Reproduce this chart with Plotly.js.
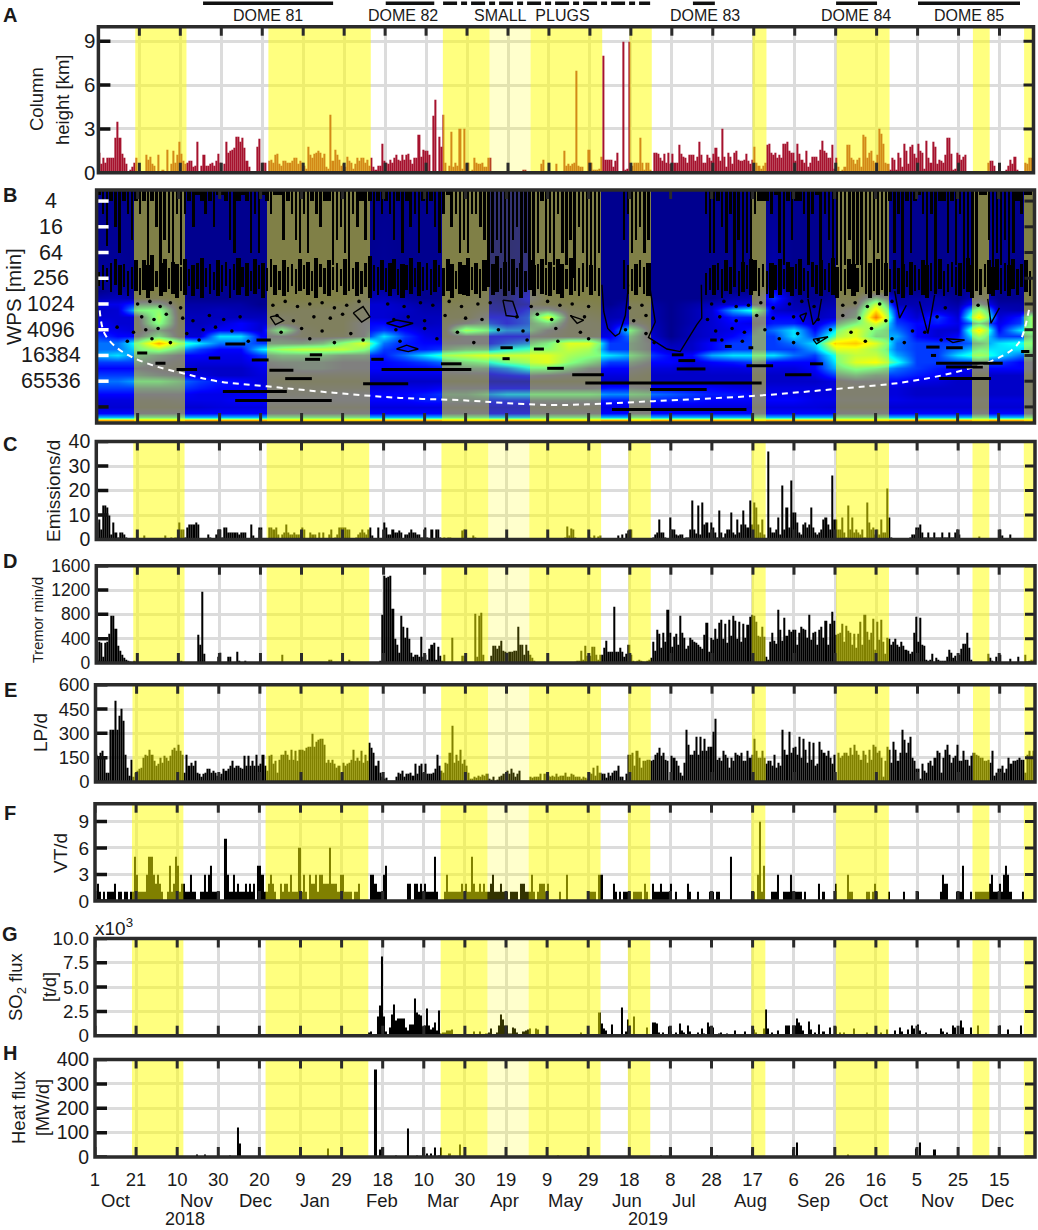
<!DOCTYPE html>
<html>
<head>
<meta charset="utf-8">
<script src="https://cdn.plot.ly/plotly-3.0.1.min.js"></script>
<style>body { margin: 0; background: #fff; }</style>
</head>
<body>
<div id="plot" style="width:1038px;height:1230px"></div>
<script>
// x axis: days since 1 Oct 2018, one tick every 20 days
const tickDays = [0,20,40,60,80,100,120,140,160,180,200,220,240,260,280,300,320,340,360,380,400,420,440]
const tickLabels = ["1","21","10","30","20","9","29","18","10","30","19","9","29","18","8","28","17","6","26","16","5","25","15"]
const monthLabels = ["Oct","Nov","Dec","Jan","Feb","Mar","Apr","May","Jun","Jul","Aug","Sep","Oct","Nov","Dec"]
const monthDays = [10,49.6,78,107,139.6,169.5,199.5,229,258.7,286.6,318.8,349.4,379,410,439.3]
const yearLabels = ["2018","2019"]
const yearDays = [43.8,269]

// shaded periods
const shadeStart = [18,83,168.2,191,211,259.3,319.4,360.5,427,452]
const shadeEnd = [43,133,191,211,246,270.2,326.2,386.3,435.2,458]
const shadeAlpha = [0.5,0.5,0.5,0.2,0.5,0.5,0.5,0.5,0.5,0.5]

// dome labels on top
const domeNames = ["DOME 81","DOME 82","SMALL  PLUGS","DOME 83","DOME 84","DOME 85"]
const domeStart = [51.1,140.3,168.3,290.3,360.2,400.2]
const domeEnd = [114.6,164,269.4,301,380.2,450]
const domeDash = ["solid","solid","14px,4px,6px,4px","solid","solid","solid"]

// A - column height [km], one row per 20 days
const columnHeight = [
1.4,0.6,1,0.7,1,1,1,1,2.4,3.5,2.4,1.3,1,0.6,0.1,0.2,0.4,0.7,1,0,
0,0,0.1,1.2,0.9,1.1,0.6,0.5,0.1,1.2,0.1,0.2,0.1,1.6,0.1,0.6,1.5,0.7,1.2,2.1,
1.3,0.8,0.6,0.7,0.8,0.8,0.4,0.5,2.1,0.1,0.5,1.2,0.5,0.5,0.6,0.7,0.5,0.8,1.3,0.7,
0.1,0.6,2.1,1.4,1.5,1.6,1.7,2.5,2.5,2.1,2.4,1.7,0.8,0.4,0.1,0,0,1.8,2.3,0.1,
0.7,0.7,0.1,0.8,0.9,0.7,1.2,1.3,0.6,0.5,0.8,0.8,0.7,0.7,0.8,1,1,0.6,0.8,0.7,
0.5,0.3,1.8,1.2,1,1.3,1.4,1.5,1.4,1,1.3,0.4,0.3,4,0.8,1.6,1.2,0.9,0.5,0.6,
0.4,1.1,0.8,0.7,0.3,0.6,1,0.8,1,1,0.7,0.9,0.5,1,0.4,0.2,0.5,0.5,2,0.8,
0.7,0.6,0.9,0.7,1,1.2,0.9,0.8,1.2,0.9,1.2,1.3,0.9,0.6,1,1,2.6,1.1,1.6,1.5,
1.5,1.2,0.1,3.9,5,0.1,2.5,1.8,4,0.7,0.1,0.5,2.8,0.4,0.7,0.5,3,0.3,3,0.6,
0.7,0.1,0.2,1,0.7,0.6,0.6,0.7,0.4,0.4,1,1,0,0,0,0.1,0,0,0.1,0.1,
0,0,0,0,0,0,0.1,0.2,0.2,0,0,0,0,0,0,0,0.6,0.9,0.1,0,
0.1,0,0,0.6,0.1,0,0,1.5,0.5,0.6,0.5,0.6,0.7,7,0.5,0.4,0.4,0.1,0,1.6,
0.7,0.2,0.2,0.2,0.3,1.1,8,0.9,0.9,0.9,0.9,0.4,0.8,1.4,0.1,0,9,0.2,0.3,9,
0.5,0.7,0.7,0.7,2.4,0.7,0.2,0.7,0.7,0.2,0.1,1.4,1.4,1.3,1,0.8,1.3,0.7,1.4,0.6,
1.3,0.7,0.7,1.9,1.3,1.1,1,0.7,1.2,1.2,1.2,0.8,1.1,2.1,1.2,0.7,0.7,1.2,1,0.8,
1.3,1.7,1.1,0.8,3,1.1,0.4,1.4,1.1,0.6,1.4,1.5,0.9,0.8,0.8,0.9,1.3,0.8,0.6,0.9,
1.8,0.7,0.5,0.3,0.5,0.7,1.9,2,1.4,1.2,1.4,1,1.2,1,2,2,2.1,1.5,1.4,1.4,
0.8,2,1.3,0.9,0.7,1.5,0.4,0.7,1.1,1.1,1.1,0.8,1.6,2.2,1.5,1.4,1,1,1.9,0.3,
1,0.4,0.1,0.2,0.4,1.9,1.9,1,0.9,0.6,0.9,1,0.4,2.6,2.5,1,1.4,1.5,0.8,0.7,
1.2,3,2.7,2,0.7,0.6,0.2,1,0.9,0.2,1.4,1,0.4,2,1.5,0.6,1.8,1.9,1.3,1,
2,1.5,1.4,0.3,2.2,1,0.7,2.1,1.8,0.6,0.9,0.8,0.7,1.2,2.4,2.4,1.3,0.2,0.3,1.4,
1.2,0.9,1.1,1.2,0.1,0,0,0,0,0,0,0,0,0,0.7,0.8,0.8,0.5,0,0,
0,0,0,0.2,0.5,0.9,0.6,1.1,0.2,0,0,0,0.7,0.6,1,1,0.1]

// C - emissions per day
const emissions = [
7,8,4,14,14,13,10,2,7,3,1,3,3,2,1,0.5,0.3,0.2,0.2,0.1,
0,0.1,0.2,1.5,0.1,0.1,0.2,0.4,0.4,0.5,0.5,0.3,0.4,1.8,0.5,0.6,0.7,0.3,0.8,1,
7,4,4,1,5,6,6,6,7,6,0.2,0,0,0,2,1,0.1,0.3,2,4,
4,1,5,5,3,3,3,3,3,2,3,3,3,0.2,0.5,6,1.5,0.3,0.2,5,
5,0.5,0.5,0.3,5,5,4,5,2,0.5,2,3,6,3,2,2,3,2,2,2,
5,4,0.3,0,3,2,2,0.3,3,0.5,3,0.3,0.3,2,4,0.3,1,2,5,5,
5,5,4,4,0.5,0.3,1,2,3,4,3,2,4,5,1.5,0.3,0,5,0.3,0.3,
7,5,2,2,4,3,3,3.5,3,0.5,2,2,3,4,3,3,2,2,1,1,
5,1,0.3,4,0.3,4,4,1,0.2,1,0.5,1,1,0.3,0.2,0.2,0.3,0.3,3.5,4,
0.5,0.2,0.1,1.5,0.8,0.3,0.1,0,0,0,0,0,0,0,0,0,0,0,0,0,
0.1,0,0,0,0,0,0,0.2,0.2,0.2,0,0,0.1,0.1,0,0,0,0,0,0,
0.1,0,0,0,0.2,0.2,0.3,0.4,1,5.5,1.5,4.5,4,1,0.6,0.4,0.2,0.1,0.1,0.2,
1,0.5,1.5,0.5,1.3,1.5,0.5,0.3,0.2,0.2,0.5,0.3,0.3,0.5,1.5,0.3,2,0.3,2.5,3.5,
4,0.2,0.1,0.1,0.1,0.1,0.1,0.2,0.2,0.2,0.3,1,2,3,8,3,3,1,0.4,9,
4,4,2,1.5,2,2,0.5,1,1,4,16,4,2.5,14,2,15,6,7,3,7,
5,3,1,12,3,1,2.5,4,4,11,3,2,8,3,6,12,6,5,16,6,
15,13,6,3,8,2,0.5,36,5,3,3,4,9,2,22,4,13,5,24,11,
11,7,3,2,6,7,5,6,13,5,3,2,3,4,8,9,6,4,26,8,
8,4,4,9,3,1,14,4,9,3,4,3,2,4,1,15,7,4,5,2,
4,2,8,3,3,21,9,1,0.5,0.5,0.3,0.3,0.3,0.5,0.5,0.3,1,2,2,5,
5,6,3,1,1,3,1,1,3,1,1,1,3,1,1,3,1,1,3,4,
2,0.3,0.1,0.3,0.1,0,0,0.1,0.1,0.2,1.2,0.2,0.2,0,0,0,0,0,0,0,
4,1.5,0.3,0.3,0.5,2,0.3,0.3,0.1,0.1,0.1,0.1,0.1,0.1,0.5,0.3,0.5]

// D - tremor minutes per day
const tremor = [
60,350,340,100,340,350,480,780,780,570,280,200,130,90,60,40,20,10,30,15,
5,5,5,5,5,3,3,3,3,3,3,3,3,3,3,3,3,2,2,2,
10,30,10,5,5,5,3,3,5,470,300,1170,150,10,5,3,3,3,3,100,
170,5,5,5,100,100,10,5,180,30,5,5,30,10,5,5,5,5,5,10,
3,3,3,3,3,3,3,3,3,3,140,5,3,3,3,3,3,3,3,3,
3,3,3,3,3,3,3,3,3,3,3,3,3,60,60,10,3,3,3,3,
3,3,3,50,20,3,3,3,3,3,3,3,3,3,3,3,3,3,30,800,
1430,1400,1420,1430,900,400,300,170,780,600,420,580,400,170,110,130,130,100,440,110,
140,60,230,300,330,60,270,120,30,130,5,3,3,410,5,3,3,3,120,120,
20,10,10,5,810,100,770,830,130,10,5,20,120,280,290,230,280,360,200,180,
170,190,180,200,200,590,300,300,130,300,200,130,80,40,10,5,5,3,3,3,
3,3,3,3,3,3,3,3,5,5,5,5,10,20,30,30,200,60,290,120,
120,270,270,130,60,130,130,250,370,180,180,180,930,180,180,250,190,110,150,300,
130,40,20,40,50,30,20,10,40,60,80,350,200,550,480,250,500,350,880,500,
270,440,480,300,770,500,420,240,280,410,380,350,340,300,260,230,470,660,180,420,
380,560,400,660,720,400,650,330,720,450,780,700,400,680,350,650,420,630,760,800,
780,680,450,430,600,430,100,60,350,500,370,320,880,540,370,740,450,540,520,540,
550,300,500,600,560,540,420,800,380,500,520,300,550,600,410,700,300,650,850,700,
470,490,500,650,350,620,530,500,300,480,250,480,680,300,800,510,390,500,730,220,
680,380,720,350,150,410,400,300,350,400,300,260,350,280,220,200,150,180,500,760,
350,750,300,280,60,40,50,160,20,90,50,30,40,40,100,220,170,90,120,30,
130,230,320,310,500,250,50,10,5,5,5,5,5,10,150,90,30,20,100,20,
140,10,5,5,5,70,10,10,10,100,10,5,130,5,40,60,50]

// E - LP events per day
const lpEvents = [
170,150,180,190,150,60,60,320,320,500,320,410,450,380,170,90,40,140,30,60,
70,80,90,150,170,160,200,170,130,100,110,150,120,160,150,130,160,200,210,190,
230,190,170,60,170,100,120,100,130,60,50,30,50,60,80,80,60,70,60,40,
30,50,80,70,80,100,130,90,100,100,90,80,160,100,160,100,130,100,170,100,
110,170,100,70,160,170,110,130,60,140,170,170,190,170,140,200,140,190,130,200,
200,190,210,220,220,300,220,250,260,270,270,230,120,140,120,140,110,90,100,60,
120,100,110,120,140,200,130,150,130,190,120,170,130,240,210,180,100,130,60,30,
20,25,10,5,5,10,30,60,50,70,30,50,50,60,40,110,50,100,110,60,
110,50,50,50,60,80,170,100,70,60,120,110,180,350,120,170,130,200,110,140,
100,60,20,20,30,25,40,30,45,40,50,20,15,30,10,15,30,40,50,50,
70,50,80,60,30,50,70,10,5,10,8,30,25,35,30,30,50,10,50,50,
40,30,40,30,50,35,40,40,60,35,30,50,45,30,30,30,20,30,25,20,
60,50,90,40,100,60,50,50,25,60,40,60,70,70,100,35,30,10,50,170,
170,180,100,190,150,90,130,130,140,140,130,140,170,180,210,160,180,140,130,10,
160,150,130,100,60,40,120,320,230,170,170,190,280,170,280,190,270,190,220,220,
310,390,140,150,130,190,170,150,90,150,130,180,170,160,180,130,130,190,150,170,
270,190,150,150,190,150,110,130,130,100,170,90,120,100,320,200,170,310,180,210,
220,170,280,150,270,200,120,250,140,240,100,110,250,200,180,160,190,150,110,170,
10,180,150,160,180,180,160,210,170,230,190,170,140,190,170,120,200,140,230,220,
180,190,150,30,130,220,200,120,250,200,130,180,320,260,180,240,280,150,130,80,
80,20,110,70,60,120,130,100,150,190,180,60,150,200,230,170,120,150,160,230,
130,130,190,140,140,100,160,180,170,160,150,150,130,130,140,120,190,40,60,80,
80,100,60,80,150,110,130,130,140,150,140,140,60,170,190,160,190]

// F - VT events per day
const vtEvents = [
0,2,1,0,1,0,1,1,1,2,0,1,1,0,1,1,0,1,1,5,
3,1,1,1,1,3,5,5,3,2,3,2,1,0,0,1,4,1,2,5,
4,1,2,2,1,1,3,1,1,0,0,1,1,3,1,3,4,1,1,1,
1,0,0,7,3,1,1,3,1,2,1,1,1,2,1,2,1,2,0,4,
4,3,1,1,2,3,2,1,0,0,2,1,2,2,1,3,1,1,1,6,
1,3,1,0,3,2,2,3,1,3,3,2,2,2,6,2,2,2,1,3,
3,1,1,1,1,0,1,1,2,0,0,0,0,0,3,3,2,1,1,1,
3,4,0,0,0,0,0,0,0,0,0,0,2,2,0,2,2,1,2,1,
2,1,1,1,1,5,1,0,0,0,1,3,1,1,1,1,1,1,2,1,
2,1,1,5,2,1,1,2,1,2,1,1,2,3,1,1,1,2,1,1,
1,0,1,1,1,1,0,2,2,1,1,1,3,1,0,1,2,2,2,1,
2,0,0,0,0,0,1,0,0,3,0,0,0,0,0,0,0,0,0,0,
1,1,1,1,0,3,3,0,0,0,0,0,2,1,0,1,0,1,1,1,
1,0,1,1,1,1,0,2,1,0,0,2,1,1,1,2,1,1,1,1,
2,0,1,0,0,0,0,0,2,1,0,0,0,1,0,0,0,0,0,1,
1,0,1,1,0,0,0,0,0,5,0,0,0,0,0,0,0,0,0,1,
1,0,3,9,1,4,0,0,0,1,1,1,3,0,0,1,1,1,3,1,
1,1,1,1,0,1,0,0,0,0,0,0,2,0,1,0,0,0,0,0,
2,0,0,0,0,0,3,1,1,0,0,0,0,0,0,1,1,0,1,2,
1,0,0,0,0,0,1,0,0,0,0,0,0,1,0,0,0,0,0,0,
1,0,0,0,0,0,0,0,0,0,0,1,3,2,2,0,0,0,0,1,
1,1,4,0,0,0,1,0,1,1,1,1,1,1,1,2,3,1,1,1,
2,1,3,4,3,1,0,0,0,0,0,1,0,0,0,0,0]

// G - SO2 flux, x10^3 t/d, only the days that show a bar
const so2Days = [113,130,133,134,137,138,139,140,141,143,144,145,146,147,148,149,150,151,152,153,154,155,156,157,158,159,160,161,162,163,164,165,166,167,168,169,170,171,172,173,184,187,190,191,192,195,196,197,198,199,200,201,202,203,204,205,208,209,210,211,214,215,222,226,230,236,245,246,247,248,251,256,258,259,260,262,264,268,271,272,273,274,276,279,280,282,284,285,286,288,289,293,295,296,298,299,300,303,304,307,311,316,320,321,325,326,327,329,332,336,337,339,340,341,342,343,344,347,348,350,352,354,357,360,362,364,369,375,382,385,389,391,392,395,397,398,400,401,404,408,411,412,414,417,418,421,422,426,429,436,440,444,450]
const so2Flux = [0.05,0.1,0.3,0.4,2,3.1,8.2,2,0.4,0.8,2.2,3.2,1.6,1.8,1.8,1.8,1.8,0.8,0.5,1.2,1.2,3.8,2.4,2.2,2.1,0.9,1,2.8,1.1,0.6,0.8,1.4,0.5,2.6,0.2,0.3,0.3,0.5,0.5,0.6,0.4,0.4,0.2,0.3,0.7,0.3,1,2.2,1.7,1.1,1.1,0.2,0.2,0.8,0.7,0.3,0.4,0.5,0.6,0.7,0.7,0.6,0.1,0.1,0.1,0.3,2.4,1.3,0.7,0.5,1.2,2.9,0.4,1.7,1,2,0.1,0.8,1.4,1.4,1.3,0.3,0.3,0.9,0.4,0.3,1.3,0.5,0.3,1,0.4,0.3,0.7,0.2,1.4,0.9,0.8,0.2,0.3,0.2,0.5,0.4,0.6,0.3,0.7,2.7,0.7,0.3,0.5,1,1,1,1,1.8,1.4,1.1,0.5,1.5,0.6,0.3,1.2,0.4,0.8,0.9,0.3,0.3,0.7,0.3,0.3,0.6,0.5,0.8,0.4,0.6,1,0.7,1.2,0.5,0.3,0.1,0.7,0.4,0.3,1,0.8,1.6,0.8,0.8,1,0.1,1,0.6,1]

// H - heat flux [MW/d], only the days that show a bar
const heatDays = [49,53,65,69,70,113,136,138,139,146,152,156,159,161,163,165,167,168,172,177,225,236,275,280,302,319,339,341,366,399,401,408]
const heatFlux = [10,10,7,120,55,33,360,30,40,5,115,8,40,15,15,40,5,40,15,50,8,5,5,40,5,30,30,60,10,35,60,30]

// B - wavelet power, rows are log2(period), columns every 10 days
const wpsColumns = [0,10,20,30,40,50,60,70,80,90,100,110,120,130,140,150,160,170,180,190,200,210,220,230,240,250,260,270,280,290,300,310,320,330,340,350,360,370,380,390,400,410,420,430,440,450,460]
const wpsLevels = [1,8.5,9,9.5,10,10.5,11,11.5,12,12.5,13,13.5,14,14.5,15,15.5,16,16.5,17,17.5,18,18.5,18.8,19,19.3]
const wpsTop = [0,0,0,0,0,0,0,0,0,0,0,0,0,0,0,0,0,0,0,0,0,0,0,0,0,0,0,0,0,0,0,0,0,0,0,0,0,0,0,0,0,0,0,0,0,0,0]
const wps085 = [0.1,0.1,0,0,0,0,0,0,0,0,0,0,0,0,0.1,0,0,0,0,0,0,0.2,0,0,0,0,0,0,0,0,0,0,0,0.3,0,0,0,0,0,0,0,0,0,0,0,0,0]
const wps090 = [0,0.2,0,0,0,0,0,0,0,0,0,0,0,0.2,0.2,0,0,0,0,0.2,0,0.7,0,0,0,0,0,0,0,0,0,0,0,1,0,0,0,0,0,0,0,0,0,0.3,0,0,0]
const wps095 = [0.3,0.4,0.2,0.3,0,0,0,0,0,0,0,0,0,0.3,0.4,0.2,0,0,0.2,0.3,0,1,0.2,0,0,0,0,0,0,0,0,0.3,0.3,1.5,0.2,0,0.2,0.2,2,0.2,0.2,0.3,0,0.6,0,0,0]
const wps100 = [0.8,0.8,1.5,1.5,0.2,0.2,0.2,0.2,0,0.2,0.2,0.2,0.2,0.6,0.6,0.4,0.2,0.2,0.3,0.4,0.3,0.6,0.3,0.2,0.2,0,0.3,0.2,0,0.2,0.4,0.6,0.7,1,0.3,0.2,0.3,0.4,4.5,0.3,0.3,0.4,0.2,1.5,0.2,0.2,0.3]
const wps105 = [0.5,0.6,3,3.5,0.3,0.3,0.4,0.3,0.2,0.3,0.4,0.4,0.4,0.6,0.6,0.5,0.3,0.3,0.4,0.6,0.4,1.2,1.5,0.4,0.3,0.2,0.4,0.3,0,0.3,0.6,2.5,3.5,0.6,0.4,0.3,0.5,1.2,6,1,0.4,0.6,0.4,4,0.4,0.3,0.6]
const wps110 = [0.6,0.6,0.6,4,0.4,0.4,0.4,0.4,0.4,0.6,0.4,0.4,0.4,0.6,0.6,0.4,0.4,0.4,0.4,1,1,1.5,5,0.6,0.5,0.3,0.4,0.3,0,0.3,0.6,1.2,1.2,1,1,0.4,0.6,1.5,8,1.2,0.6,1.5,0.6,6,0.6,1.2,5.5]
const wps115 = [1,0.6,0.6,3.5,0.5,0.4,0.6,1,0.6,0.6,0.4,0.4,0.4,1,1,0.5,0.4,0.5,1,1.5,1,1.5,2.5,0.6,0.6,0.5,1,0.4,0,0.3,0.6,1,0.8,1.2,1.2,0.6,1.5,3,5,1.5,1,1.2,0.8,2.5,0.8,1.5,5]
const wps120 = [1,0.8,0.6,1.5,0.6,0.5,1,1,0.6,3,0.6,0.4,0.4,1,1.5,1,0.6,0.6,4,3,2,2,1,0.6,0.6,0.6,3,0.5,0,0.4,0.6,0.8,1.2,2,3,1,3,5,3,2,1,0.6,0.6,6,1,3,4]
const wps125 = [1.5,1,1,2.5,0.6,0.6,3,3,1,1,0.6,0.5,0.5,1,3,1.5,0.8,0.6,1,1,1,1,0.8,0.6,0.6,0.8,2,0.6,0,0.4,0.6,1,1.5,1.5,3,1.5,4,5,2.5,2.5,1,0.6,1,4,1.5,1.5,3]
const wps130 = [2,2,3.5,7,4,3,2,2,1.5,1.5,1.5,2,3.5,5,2,1.2,1,1,1,1,1.5,2,3,5,5,1.5,1.5,1,0.3,0.5,1,1.5,1.5,1.5,2,3,6,6.5,5,2,1.5,1.5,1.5,2,3,3.5,3.5]
const wps135 = [2,2,3,4,2.5,1.5,1,1,3,4,4.5,4.5,4.5,3.5,1.5,1.2,1.2,1.5,2,2,3,3.5,3.5,4.5,4,1.5,1.5,1,0.5,0.5,1,1.5,1.5,1.5,1.5,2.5,5,5,4,2,1.5,1.5,2,3,3,3,2.5]
const wps140 = [2.5,3,2,1.5,1,1,0.8,0.8,1.5,2,2,2,1.5,1.5,1.2,2,3,4,4.5,5,5,5,5,4,3.5,3,2.5,1.5,1,1,2.5,3,3,3,2,1.5,3.5,4.5,4.5,2.5,1.5,1.5,3,4,3,2,1.5]
const wps145 = [1.5,1.5,1.5,1,0.8,0.7,0.7,0.7,1,1.2,1.2,1.2,1,1,1,1.2,1.5,2,2.5,3,4,4.5,5,3.5,2.5,1.5,1.5,1,1,0.7,1,1.2,1.5,1,1,1,3,5,5.5,3.5,1.5,1.5,1.5,1.5,1.5,1,1]
const wps150 = [1,1,1,0.8,0.7,0.5,0.5,0.5,0.8,1,1.2,1.2,1,1,1,1,1,1.2,1.5,1.5,2,3,3,2,1.2,1,1,0.7,0.7,0.5,0.7,0.7,0.8,0.7,0.7,1,2.5,3.5,3,2,1.5,1.2,1,1,1,1,1]
const wps155 = [1.5,1.5,1.5,1.2,1,0.7,0.5,0.5,0.7,0.7,0.7,0.7,0.7,0.7,0.7,0.7,0.7,0.7,0.7,0.8,1,1.2,1,0.8,0.7,0.7,0.7,0.5,0.5,0.5,0.5,0.5,0.5,0.5,0.5,0.7,1.5,2,1.5,1.5,1.2,1,0.7,0.5,0.5,0.5,0.5]
const wps160 = [2,2,2.5,2.5,2,1.5,1.2,1,0.7,0.5,0.5,0.5,0.5,0.5,0.5,0.5,0.5,0.5,0.5,0.5,0.5,0.5,0.5,0.5,0.5,0.5,0.5,0.5,0.5,0.5,0.5,0.5,0.5,0.5,0.5,0.5,0.7,1,1,1,0.8,0.7,0.5,0.5,0.5,0.5,0.5]
const wps165 = [1.5,1.5,1.5,1.5,1.5,1.2,1,1,0.8,0.8,0.7,0.7,0.7,0.7,0.7,0.8,0.8,1,1,1,1,1,1,1,1,1.2,1.2,1,1,1,1,0.8,0.7,0.7,0.7,0.7,0.7,0.7,0.7,0.7,0.5,0.5,0.5,0.5,0.5,0.5,0.5]
const wps170 = [1,1,1,1,1,0.8,0.8,0.8,0.8,0.8,0.8,0.8,1,1,1,1,1.2,1.5,1.5,2,2.5,2.5,2.5,2.5,2.5,2.2,2.2,2,1.8,1.5,1.2,1.2,1,0.8,0.8,0.7,0.7,0.7,0.7,0.7,0.5,0.5,0.5,0.5,0.5,0.5,0.5]
const wps175 = [0.7,0.7,0.7,0.7,0.8,0.8,0.8,1,1,1,1,1,1,1,1,1,1.2,1.2,1.2,1.2,1.2,1.2,1.2,1.2,1.2,1.2,1.2,1.2,1.2,1.2,1,1,1,1,1,0.8,0.8,0.8,0.8,0.8,0.7,0.7,0.7,0.7,0.7,0.7,0.7]
const wps180 = [0.6,0.6,0.6,0.6,0.6,0.6,0.7,0.7,0.7,0.7,0.7,0.7,0.7,0.7,0.7,0.7,0.7,0.7,0.7,0.7,0.7,0.7,0.7,0.7,0.7,0.7,0.7,0.7,0.7,0.7,0.7,0.7,0.7,0.7,0.7,0.7,0.6,0.6,0.6,0.6,0.6,0.6,0.6,0.6,0.6,0.6,0.6]
const wps185 = [1,1,1,1,1,1,1,1,1,1,1,1,1,1,1,1,1,1,1,1,1,1,1,1,1,1,1,1,1,1,1,1,1,1,1,1,1,1,1,1,1,1,1,1,1,1,1]
const wps188 = [2.6,2.6,2.6,2.6,2.6,2.6,2.6,2.6,2.6,2.6,2.6,2.6,2.6,2.6,2.6,2.6,2.6,2.6,2.6,2.6,2.6,2.6,2.6,2.6,2.6,2.6,2.6,2.6,2.6,2.6,2.6,2.6,2.6,2.6,2.6,2.6,2.6,2.6,2.6,2.6,2.6,2.6,2.6,2.6,2.6,2.6,2.6]
const wps190 = [6.3,6.3,6.3,6.3,6.3,6.3,6.3,6.3,6.3,6.3,6.3,6.3,6.3,6.3,6.3,6.3,6.3,6.3,6.3,6.3,6.3,6.3,6.3,6.3,6.3,6.3,6.3,6.3,6.3,6.3,6.3,6.3,6.3,6.3,6.3,6.3,6.3,6.3,6.3,6.3,6.3,6.3,6.3,6.3,6.3,6.3,6.3]
const wps193 = [5.5,5.5,5.5,5.5,5.5,5.5,5.5,5.5,5.5,5.5,5.5,5.5,5.5,5.5,5.5,5.5,5.5,5.5,5.5,5.5,5.5,5.5,5.5,5.5,5.5,5.5,5.5,5.5,5.5,5.5,5.5,5.5,5.5,5.5,5.5,5.5,5.5,5.5,5.5,5.5,5.5,5.5,5.5,5.5,5.5,5.5,5.5]

const wpsTickVals = [2,4,6,8,10,12,14,16]
const wpsTickText = ["4","16","64","256","1024","4096","16384","65536"]

// cone of influence
const coiDays = [1.5,3.6,8.4,15.7,28,42.5,58.7,83,115.5,148,180.4,204.7,223,239,271.7,320,361,393,417.7,437,447,451,455]
const coiLog = [10.5,12.2,13.2,14,14.8,15.4,16,16.4,16.9,17.3,17.5,17.75,17.85,17.8,17.55,17.15,16.6,16.1,15.35,14.4,13.5,12.7,10.3]

// significance contours: streaks per 2 days, end of the streak hanging from the top
const streakEnd = [
1.5,3,5.5,2,4,6,2,3,5,2,
3,2,7,2,4,7,5,6,8,3,
7,3,2,4,1.5,2,3,2,4,1.5,
1.5,2,5,6,2,1.5,2,6,3,6,
1.5,2,3,1.5,1.5,5,2,3,5,6,
3,6,2,3,4,2,2,7,5,4,
6,7,3,4,2,5,2,5,2,3,
2,3,5,2,6,2,4,3,6,2,
3,2,4,6,3,1.5,4,3,6,5,
6,3,3,4,5,7,6,5,6,7,
7,5,4,7,6,7,7,6,2,7,
6,7,3,6,7,5,8,4,6,7,
7,7,6,null,null,null,null,null,5,3,
6,5,4,6,5,null,null,null,null,null,
null,null,null,null,null,null,null,null,3,6,
6,2,4,6,3,7,5,8,6,8,
3,2,2,2,3,1.5,6,7,2,5,
2,2,3,7,3,1.5,7,3,5,7,
7,8,7,5,8,7,7,8,5,8,
6,8,7,2,6,3,8,2,6,2,
1.5,3,7,3,8,2,2,6,2,7,
3,8,7,8,8,1.5,1.5,5,8,6,
7,5,7,6,2,3,1.5,1.5,7]
const bandTop = [
7.5,7,7.2,6.8,6.5,7,6.9,7.4,7.1,6.6,
7.2,6.6,7,6.2,7.4,6.8,6.5,7.2,6.7,6.9,
7.1,6.5,7.3,7,6.8,6.4,7.2,6.9,7.5,6.6,
7,6.7,7.3,6.9,6.4,7.1,6.8,7.4,6.5,7,
6.8,7.2,6.5,7,7.4,6.6,7.1,6.9,7.3,6.5,
7,6.7,7.4,6.4,6.9,7.2,6.6,7.1,6.8,7.3,
6.5,6.9,7.2,6.7,7.4,6.8,6.3,7,7.1,6.6,
7.2,6.8,6.5,7.3,6.9,7,6.4,7.2,6.7,7.1,
6.8,7.3,6.6,7,7.2,6.5,6.9,7.4,6.7,7,
6.4,7.1,6.8,7.3,6.6,7,6.9,6.3,7.2,6.7,
7,6.5,7.2,6.8,7.4,6.6,7,6.9,6.5,7.2,
6.7,7.1,6.5,6.9,7.3,6.4,7,7.2,6.8,6.6,
7,6.7,7.2,null,null,null,null,null,6.6,7,
7.3,6.9,6.6,7.1,6.8,null,null,null,null,null,
null,null,null,null,null,null,null,null,7.6,7.2,
7,6.8,7.3,6.6,7.1,6.9,7.4,6.7,7,6.5,
6.6,7.2,6.9,7.4,6.8,7,6.5,7.3,6.7,7.1,
6.9,6.5,7.2,7.4,6.7,7,6.6,7.3,6.8,6.4,
7.1,6.7,7.3,6.5,6.9,7.2,6.6,7,6.8,7.4,
6.5,7,6.8,7.3,6.6,7.2,6.9,7.4,6.7,7,
7.3,6.6,7,6.8,7.2,6.5,7.4,6.9,6.7,7.1,
6.8,7.2,6.4,7,6.7,7.3,6.9,6.6,7.1,6.5,
7.2,6.8,7,6.5,7.3,6.9,6.6,7.4,7]
const bandBottom = [
8.6,8.9,8.3,9.1,8.5,9.3,8.7,9.4,8.8,9,
9.3,8.9,9.5,9,8.7,9.4,9.1,8.8,9.2,9.5,
9,9.3,8.6,9.4,8.8,9.5,8.7,9.2,8.9,9.4,
9.1,8.6,9.5,8.9,9.3,8.7,9.4,9,9.2,8.8,
9.5,9,8.7,9.3,8.9,9.4,9.1,8.6,9.2,9,
8.8,9.3,9,9.5,8.7,9.2,9.4,8.9,9.1,8.6,
9.3,9,8.8,9.4,9.2,8.7,9.5,9,9.3,8.9,
9.1,9.4,8.8,9.3,9.5,8.9,9.2,8.7,9.4,9,
8.9,9.3,9.1,8.7,9.4,9,9.5,8.8,9.2,9.3,
9.4,8.9,9.2,9.5,9,8.7,9.3,9.1,8.8,9.4,
9,9.3,8.7,9.5,9.1,8.9,9.4,8.8,9.2,9.3,
9.4,8.9,9.2,9.5,8.8,9.3,9,9.4,9.1,8.7,
9.3,9,9.4,null,null,null,null,null,8.8,9.2,
9,9.3,8.7,9.2,9.4,null,null,null,null,null,
null,null,null,null,null,null,null,null,9.3,8.9,
9.3,8.9,9.5,9,9.2,8.7,9.4,9.1,8.8,9.3,
9,9.4,8.7,9.2,9.5,8.9,9.3,8.8,9.1,9.4,
8.8,9.3,9,9.5,8.7,9.2,9.4,8.9,9.1,9.3,
9.5,9,9.3,8.8,9.4,9.1,8.7,9.2,9.5,9,
9.3,8.9,9.4,9.1,8.8,9.2,9.5,8.7,9.3,9,
8.9,9.3,9.5,9,9.2,8.8,9.4,9.1,8.7,9.3,
9.4,8.8,9.1,9.5,9,9.3,8.7,9.2,9.4,8.9,
9.2,9,9.4,8.8,9.3,8.7,9.1,9.4,9]

// small closed contours at long periods
const dashStart = [61.6,67.6,130,139,92,84.3,39,75.7,101.7,104,134,168,28.7,54.7,19.8,62.8,78,197,198,238.4,232,219.8,270,251.4,283,283.8,280.6,213.3,317,318,335.8,348,411,409.5,414.4,407,404.7,414.4,451,306.5,299.3]
const dashEnd = [92.8,114.7,152,182.8,105,96,49,83.9,109,110,140,178,33.6,60.3,24.7,72.5,85,203,201.5,324.4,247.4,227.9,297.6,317,297,292,286.3,218.2,330,320.3,348.7,354.4,436.3,442,432.3,409.5,411.2,422.5,455,309.8,302.5]
const dashLog = [16.8,17.5,16.2,15.1,15.8,15.15,15.1,14.35,14.3,13.95,14.3,14.65,14.6,14.2,13.8,13.1,12.8,13.4,14.25,16.15,15.5,15,16.65,18.2,15.05,14.4,13.95,13.5,14.8,13.4,15.5,14.65,15.8,14.6,14.9,14,13.35,13.4,13.7,13.3,12.8]

const dotDays = [20,26,31,36,41,86,92,98,104,110,116,122,128,142,150,158,164,172,178,186,192,212,220,226,232,240,260,266,300,306,312,318,324,330,338,344,350,364,370,376,382,388,414,430,
22,28,34,42,47,55,62,70,88,96,106,114,120,145,152,160,170,180,188,205,215,222,238,262,268,298,304,312,322,330,340,352,364,372,385,410,
5,10,18,24,30,44,52,58,66,90,100,110,124,146,160,176,196,208,224,236,258,268,302,310,316,326,342,358,368,378,398,404,
15,27,36,50,74,104,116,130,148,166,184,210,225,240,272,305,315,333,340,352,375,388,394,412]
const dotLog = [10,9.8,10.2,9.9,10.3,10.1,9.8,10.2,10,9.9,10.3,10.1,9.8,10,10.2,9.9,10.1,9.8,10.2,10,9.9,10.2,9.8,10.1,10,10.2,10.3,10.1,10,9.8,10.2,10.1,9.9,10.3,10,9.8,10.2,10.1,9.9,10.2,10,9.8,10.3,10.1,
11,11.2,10.8,11.1,11.3,10.9,11.2,11,10.9,11.3,11,11.1,10.8,11.2,11,11.3,10.9,11.1,11.2,11,10.8,11.2,11,11.3,10.9,11.2,11,11.3,10.9,11.1,11,11.2,10.9,11.1,11.3,11,
12,11.8,12.2,12,11.9,12.3,12,11.8,12.1,12.2,11.9,12.1,12.3,12,11.9,12.2,12,12.1,11.9,12.2,12,12.3,12.1,11.9,12.2,12,12.3,12,12.2,11.9,12.1,12.2,
12.9,12.7,13,12.8,12.9,12.7,13,12.8,12.9,12.7,13,12.8,12.9,12.7,13,12.8,12.9,12.7,13,12.8,12.9,12.7,13,12.8]

// outlined valleys and loops, null breaks the line
const contourDays = [246.5,247.4,249.3,253,255,257.9,259.5,null,270,272.5,269.2,278.2,284.7,292.8,295.2,295,null,347,349.5,352,353.6,null,389.3,391.7,395,null,401.4,405.5,408.8,null,434.7,436.3,440.4,null,84.7,88,91.2,87.2,84.7,null,125.2,130,133.3,129.3,125.2,null,146.3,151.2,156.9,152,146.3,null,141.4,146.3,154.4,148,141.4,null,198.2,203,205.5,199.8,198.2,null,231.1,237.6,234.4,231.1,null,414.4,423.4,417.7,414.4,null,349.5,356.8,351.2,349.5,null,343,346.3,344.7,343]
const contourLog = [8.5,10.6,11.9,12.5,12.3,10.9,8.5,null,8.8,11.4,12.6,13.5,13.7,11.6,11.1,8.5,null,9.6,11.6,11.1,9.6,null,9,11.1,10.1,null,9.8,12.3,9.3,null,9.6,11.5,10.3,null,11,10.9,11.3,11.6,11,null,10.7,10.2,11,11.4,10.7,null,13.5,13.2,13.5,13.7,13.5,null,11.5,11.25,11.5,11.8,11.5,null,9.7,9.8,11,10.9,9.7,null,10.9,11.25,11.5,10.9,null,12.7,12.8,13,12.7,null,12.75,12.55,13.1,12.75,null,10.9,10.7,11.4,10.9]

const W = 1038
const H = 1230
const font = "Liberation Sans, Arial, sans-serif"
const frameColor = "#2b2b2b"
const gridColor = "#dcdcdc"

const jet = [[0,"#00008f"],[0.11,"#0000ff"],[0.36,"#00ffff"],[0.62,"#ffff00"],[0.87,"#ff0000"],[1,"#800000"]]

// panel frames in pixels: left, right, top, bottom, px per day
const panels = [
    {id: "", left: 98.4, right: 1033.5, top: 26.7, bottom: 172.7, scale: 2.048, range: [0,10], ticks: [0,3,6,9], text: ["0","3","6","9"], size: 20.5, standoff: 2},
    {id: "2", left: 96.6, right: 1034.5, top: 190, bottom: 423, scale: 2.05, range: [19.25,1.14], ticks: [2,4,6,8,10,12,14,16,18], text: [], size: 18, standoff: 0},
    {id: "3", left: 96.3, right: 1035, top: 441.5, bottom: 539.5, scale: 2.052, range: [0,40], ticks: [0,10,20,30,40], text: ["0","10","20","30","40"], size: 19.5, standoff: 5},
    {id: "4", left: 96.3, right: 1035, top: 565.7, bottom: 663, scale: 2.052, range: [0,1600], ticks: [0,400,800,1200,1600], text: ["0","400","800","1200","1600"], size: 17.5, standoff: 5},
    {id: "5", left: 95.5, right: 1035, top: 684.7, bottom: 782, scale: 2.055, range: [0,600], ticks: [0,150,300,450,600], text: ["0","150","300","450","600"], size: 18.5, standoff: 5},
    {id: "6", left: 95, right: 1035, top: 803.7, bottom: 901, scale: 2.055, range: [0,11], ticks: [0,3,6,9], text: ["0","3","6","9"], size: 19, standoff: 5},
    {id: "7", left: 95, right: 1035, top: 938.5, bottom: 1035.7, scale: 2.055, range: [0,10], ticks: [0,2.5,5,7.5,10], text: ["0","2.5","5.0","7.5","10.0"], size: 18.8, standoff: 5},
    {id: "8", left: 95, right: 1035, top: 1059.5, bottom: 1157, scale: 2.055, range: [0,400], ticks: [0,100,200,300,400], text: ["0","100","200","300","400"], size: 19.4, standoff: 5}
]

function paperX(px) { return px / W }
function paperY(px) { return 1 - px / H }

function label(text, px, py, size, extra) {
    // text placed by page position
    return Object.assign({
        text: text, xref: "paper", yref: "paper", x: paperX(px), y: paperY(py),
        xanchor: "center", yanchor: "middle", showarrow: false, borderpad: 0,
        font: {family: font, size: size, color: "#1a1a1a"}
    }, extra || {})
}

function dailyBars(values, color, axisId) {
    // hairline outline plus bargap 0 makes plotly snap the bars to whole pixels, so no seams
    return {
        type: "bar", x: values.map((v, i) => i + 0.5), y: values, width: 1,
        marker: {color: color, line: {width: 0.02, color: color}}, xaxis: "x" + axisId, yaxis: "y" + axisId, hoverinfo: "skip"
    }
}

function sparseBars(days, values, axisId) {
    return {
        type: "bar", x: days.map(d => d + 0.5), y: values, width: 1,
        marker: {color: "#000", line: {width: 0.02, color: "#000"}}, xaxis: "x" + axisId, yaxis: "y" + axisId, hoverinfo: "skip"
    }
}

// traces
const wpsZ = [wpsTop,wps085,wps090,wps095,wps100,wps105,wps110,wps115,wps120,wps125,wps130,wps135,wps140,wps145,wps150,wps155,wps160,wps165,wps170,wps175,wps180,wps185,wps188,wps190,wps193]
const streakDays = streakEnd.map((v, i) => i * 2 + 1)

const traces = [
    dailyBars(columnHeight, "#a6122e", ""),
    {type: "heatmap", x: wpsColumns, y: wpsLevels, z: wpsZ, zmin: 0, zmax: 9, zsmooth: "best", colorscale: jet, showscale: false, xaxis: "x2", yaxis: "y2", hoverinfo: "skip"},
    // shading goes in as a trace here so the contours can sit on top of it
    {type: "bar", x: shadeStart.map((s, i) => (s + shadeEnd[i]) / 2), width: shadeStart.map((s, i) => shadeEnd[i] - s),
        base: shadeStart.map(() => 1.14), y: shadeStart.map(() => 18.11),
        marker: {color: shadeAlpha.map(a => "rgba(255,255,0," + a + ")"), line: {width: 0}}, xaxis: "x2", yaxis: "y2", hoverinfo: "skip"},
    // short stubs join up at the top edge, long ones stay thin
    {type: "bar", x: streakDays, base: streakEnd.map(v => v === null ? null : 1.14), y: streakEnd.map(v => v === null ? null : v - 1.14),
        width: streakEnd.map(v => v !== null && v < 2.5 ? 2 : 1.2),
        marker: {color: "#000", line: {width: 0}}, xaxis: "x2", yaxis: "y2", hoverinfo: "skip"},
    {type: "bar", x: streakDays, base: bandTop, y: bandBottom.map((v, i) => v === null ? null : v - bandTop[i]),
        width: bandBottom.map((v, i) => v !== null && v - bandTop[i] > 2.3 ? 2 : 1.1),
        marker: {color: "#000", line: {width: 0}}, xaxis: "x2", yaxis: "y2", hoverinfo: "skip"},
    {type: "scatter", mode: "lines", x: contourDays, y: contourLog, line: {color: "#000", width: 1.4}, xaxis: "x2", yaxis: "y2", hoverinfo: "skip"},
    {type: "scatter", mode: "markers", x: dotDays, y: dotLog, marker: {color: "#000", size: 3.6}, xaxis: "x2", yaxis: "y2", hoverinfo: "skip"},
    {type: "scatter", mode: "lines", x: coiDays, y: coiLog, line: {color: "#fff", width: 2, dash: "6px,5px", shape: "spline"}, xaxis: "x2", yaxis: "y2", hoverinfo: "skip"},
    dailyBars(emissions, "#000", "3"),
    dailyBars(tremor, "#000", "4"),
    dailyBars(lpEvents, "#000", "5"),
    dailyBars(vtEvents, "#000", "6"),
    sparseBars(so2Days, so2Flux, "7"),
    sparseBars(heatDays, heatFlux, "8")
]

// one thick trace per closed contour dash
dashStart.forEach((s, i) => {
    traces.push({type: "scatter", mode: "lines", x: [s, dashEnd[i]], y: [dashLog[i], dashLog[i]],
        line: {color: "#000", width: 3}, xaxis: "x2", yaxis: "y2", hoverinfo: "skip"})
})

// layout
const layout = {
    width: W, height: H, margin: {l: 0, r: 0, t: 0, b: 0}, paper_bgcolor: "#fff", plot_bgcolor: "#fff",
    barmode: "overlay", bargap: 0, bargroupgap: 0, showlegend: false, font: {family: font, color: "#1a1a1a"}, shapes: [], annotations: []
}

panels.forEach((p, n) => {
    const isWps = n === 1
    const isLast = n === panels.length - 1
    const width = p.right - p.left
    const height = p.bottom - p.top
    layout["xaxis" + p.id] = {
        domain: [paperX(p.left), paperX(p.right)], range: [0, width / p.scale], anchor: "y" + p.id,
        tickmode: "array", tickvals: tickDays, ticktext: isLast ? tickLabels : tickDays.map(() => ""),
        showticklabels: isLast, ticks: "", showline: false, zeroline: false, ticklabelstandoff: 9,
        showgrid: !isWps, gridcolor: gridColor, gridwidth: 3,
        tickfont: {family: font, size: 18.5, color: "#1a1a1a"}
    }
    layout["yaxis" + p.id] = {
        domain: [paperY(p.bottom), paperY(p.top)], range: p.range, anchor: "x" + p.id,
        tickmode: "array", tickvals: p.ticks, ticktext: isWps ? p.ticks.map(() => "") : p.text,
        showticklabels: !isWps, ticks: "", showline: false, zeroline: false, ticklabelstandoff: p.standoff,
        showgrid: !isWps, gridcolor: gridColor, gridwidth: 3,
        tickfont: {family: font, size: p.size, color: "#1a1a1a"}
    }

    const xRef = "x" + p.id
    const yRef = "y" + p.id

    // yellow periods over the bars, panel B has its own trace
    if (!isWps) {
        shadeStart.forEach((s, i) => {
            layout.shapes.push({type: "rect", layer: "above", xref: xRef, yref: yRef + " domain", x0: s, x1: shadeEnd[i], y0: 0, y1: 1,
                fillcolor: "rgb(255,255,0)", opacity: shadeAlpha[i], line: {width: 0}})
        })
    }

    // inward ticks
    tickDays.forEach(d => {
        [[0, 10 / height], [1 - 9 / height, 1]].forEach(span => {
            layout.shapes.push({type: "line", layer: "above", xref: xRef, yref: yRef + " domain", x0: d, x1: d, y0: span[0], y1: span[1],
                line: {color: "#2b2b2b", width: 3}})
        })
    })
    p.ticks.forEach(t => {
        const leftColor = isWps && t < 18 ? "#fff" : "#111"
        layout.shapes.push({type: "line", layer: "above", xref: xRef + " domain", yref: yRef, x0: 0, x1: 12 / width, y0: t, y1: t,
            line: {color: leftColor, width: 3.5}})
        layout.shapes.push({type: "line", layer: "above", xref: xRef + " domain", yref: yRef, x0: 1 - 10 / width, x1: 1, y0: t, y1: t,
            line: {color: "#222", width: 3}})
    })

    // frame
    layout.shapes.push({type: "rect", layer: "above", xref: xRef + " domain", yref: yRef + " domain", x0: 0, x1: 1, y0: 0, y1: 1,
        line: {color: frameColor, width: 3.5}})
})

// dome bars and names
domeNames.forEach((name, i) => {
    layout.shapes.push({type: "line", xref: "x", yref: "paper", x0: domeStart[i], x1: domeEnd[i], y0: paperY(3.3), y1: paperY(3.3),
        line: {color: "#111", width: 3.5, dash: domeDash[i]}})
})
const domeCenters = [268, 403, 532, 705, 855.7, 969]
domeNames.forEach((name, i) => {
    layout.annotations.push(label(name.replace("  ", "&nbsp;&nbsp;"), domeCenters[i], 15.7, 16))
})

// panel B period labels
wpsTickVals.forEach((v, i) => {
    layout.annotations.push({text: wpsTickText[i], xref: "paper", yref: "y2", x: paperX(51), y: v, xanchor: "center", yanchor: "middle",
        showarrow: false, font: {family: font, size: 21.5, color: "#1a1a1a"}})
})

// panel letters
const letters = ["A","B","C","D","E","F","G","H"]
const letterY = [15,195,444,561,690,813,934,1053]
letters.forEach((l, i) => {
    layout.annotations.push(label("<b>" + l + "</b>", 10, letterY[i], 20))
})

// axis titles
const rot = {textangle: -90}
layout.annotations.push(
    label("Column", 37, 99, 18.5, rot),
    label("height [km]", 62, 100, 18.5, rot),
    label("WPS [min]", 13, 297, 20.5, rot),
    label("Emissions/d", 53, 491, 19, rot),
    label("Tremor min/d", 38, 620, 14.6, rot),
    label("LP/d", 40, 733, 19, rot),
    label("VT/d", 60, 853, 19, rot),
    label("SO<sub>2</sub> flux", 17, 987, 18.5, rot),
    label("[t/d]", 50, 987, 18, rot),
    label("Heat flux", 18, 1107, 18.5, rot),
    label("[MW/d]", 43, 1108, 18, rot),
    label("x10<sup>3</sup>", 94, 927, 19, {xanchor: "left"})
)

// month and year rows under the last panel
monthLabels.forEach((m, i) => {
    layout.annotations.push({text: m, xref: "x8", yref: "paper", x: monthDays[i], y: paperY(1200), xanchor: "center", yanchor: "middle",
        showarrow: false, font: {family: font, size: 18.5, color: "#1a1a1a"}})
})
yearLabels.forEach((y, i) => {
    layout.annotations.push({text: y, xref: "x8", yref: "paper", x: yearDays[i], y: paperY(1218.5), xanchor: "center", yanchor: "middle", borderpad: 0,
        showarrow: false, font: {family: font, size: 18, color: "#1a1a1a"}})
})

Plotly.newPlot("plot", traces, layout, {displayModeBar: false, responsive: false})
</script>
</body>
</html>
